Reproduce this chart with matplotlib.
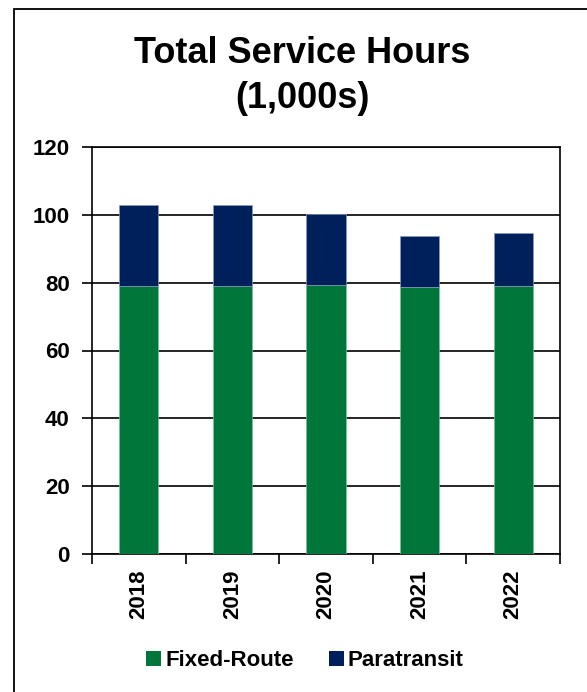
import matplotlib
matplotlib.use("Agg")
import matplotlib.pyplot as plt
import numpy as np
from matplotlib.patches import Rectangle, Patch

plt.rcParams['font.family'] = ['Liberation Sans', 'DejaVu Sans']
plt.rcParams['font.weight'] = 'bold'

# service hours in thousands
years = ['2018', '2019', '2020', '2021', '2022']
fixed_route = [79.1, 79.1, 79.4, 78.6, 78.9]
paratransit = [23.7, 23.9, 20.7, 15.3, 15.7]

green = '#00763A'
navy = '#00205C'

fig = plt.figure(figsize=(5.87, 6.92), dpi=100)

# frame around the whole chart
fig.patches.append(Rectangle((14 / 587, -0.1), 1.2, 1 - 9 / 692 + 0.1,
                             transform=fig.transFigure, fill=False,
                             edgecolor='black', linewidth=1.3))

fig.text(302 / 587, 1 - 63 / 692, 'Total Service Hours', ha='center', va='baseline',
         fontsize=26, fontweight='bold')
fig.text(302 / 587, 1 - 108 / 692, '(1,000s)', ha='center', va='baseline',
         fontsize=26, fontweight='bold')

ax = fig.add_axes([92 / 587, (692 - 554) / 692, 468 / 587, (554 - 147) / 692])

x = np.arange(len(years))
ax.bar(x, fixed_route, width=0.42, color=green, edgecolor='#7fbf9a', linewidth=0.5, zorder=3)
ax.bar(x, paratransit, width=0.42, bottom=fixed_route, color=navy,
       edgecolor='#8a9bbf', linewidth=0.5, zorder=3)

ax.set_xlim(-0.5, 4.5)
ax.set_ylim(0, 120)
ax.set_yticks(range(0, 121, 20))
ax.yaxis.grid(True, color='black', linewidth=1.2, zorder=1)
ax.set_axisbelow(True)

# category labels centred on bars, tick marks between categories
ax.set_xticks(np.arange(-0.5, 5, 1))
ax.set_xticklabels([])
ax.set_xticks(x, minor=True)
ax.set_xticklabels(years, minor=True, rotation=90, fontsize=16, fontweight='bold')
ax.tick_params(axis='x', which='minor', length=0, pad=11)
ax.tick_params(axis='x', which='major', length=7, width=1.2, direction='out')
ax.tick_params(axis='y', length=7, width=1.2, labelsize=16, pad=9)
for lbl in ax.get_yticklabels():
    lbl.set_fontweight('bold')

for s in ax.spines.values():
    s.set_linewidth(1.2)
    s.set_color('black')

handles = [Patch(facecolor=green, label='Fixed-Route'),
           Patch(facecolor=navy, label='Paratransit')]
fig.legend(handles=handles, loc='center', bbox_to_anchor=(305 / 587, 1 - 661 / 692),
           ncol=2, frameon=False, handlelength=0.65, handleheight=0.65,
           handletextpad=0.2, columnspacing=1.6, prop={'weight': 'bold', 'size': 16})

fig.savefig('out.png', dpi=100)
